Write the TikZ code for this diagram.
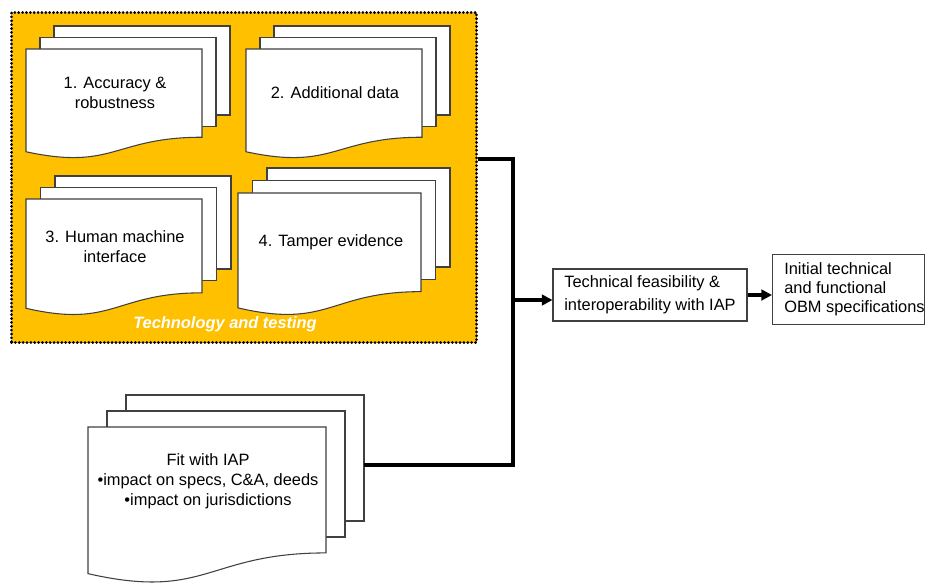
\documentclass[tikz,border=0pt]{standalone}
\usepackage{fontspec}
\setmainfont{Liberation Sans}
\usetikzlibrary{arrows.meta}
\definecolor{gold}{HTML}{FFC000}
\definecolor{pageline}{HTML}{404040}
% #1 x0, #2 y0, #3 w, #4 h (wave height), #5 dx, #6 dy, #7 back page height
\newcommand\mdoc[7]{%
  \draw[page] ({#1+2*#5},{#2-2*#6}) rectangle ++(#3,#7);
  \draw[page] ({#1+#5},{#2-#6}) rectangle ++(#3,#7);
  \draw[page] (#1,#2) -- ({#1+#3},#2) -- ({#1+#3},{#2+0.802*#4})
    .. controls ({#1+0.5*#3},{#2+0.802*#4}) and ({#1+0.5*#3},{#2+1.107*#4}) ..
    (#1,{#2+0.934*#4}) -- cycle;
}
\begin{document}
\begin{tikzpicture}[x=0.75pt,y=-0.75pt,
  page/.style={draw=pageline, fill=white, line width=0.8pt},
  lbl/.style={font=\fontsize{12.3pt}{15pt}\selectfont, align=center, inner sep=0pt},
  conn/.style={line width=2.3pt},
  arr/.style={conn, -{Triangle[length=8pt,width=8pt]}},
  box/.style={draw=pageline, line width=0.8pt, fill=white},
  group/.style={fill=gold, draw=black, line width=2.3pt, line cap=round, dash pattern=on 0pt off 2.9pt}]
\useasboundingbox (0,0) rectangle (926,583);

% group
\node[group, anchor=north west, minimum width=348.75pt, minimum height=247.5pt, inner sep=0pt] (tech) at (10,11) {};

% documents
\mdoc{26}{49}{176}{110}{14}{11.5}{89}
\node[lbl] (d1) at (115,93) {1. Accuracy \&\\robustness};

\mdoc{246}{49}{176}{110}{14}{11.5}{89}
\node[lbl] (d2) at (335,93) {2. Additional data};

\mdoc{26}{199}{176}{117}{14.5}{11.5}{93}
\node[lbl] (d3) at (115,247) {3. Human machine\\interface};

\mdoc{238}{193}{183}{123}{14.5}{12.5}{99}
\node[lbl] (d4) at (331,242) {4. Tamper evidence};

\node[font=\bfseries\itshape\fontsize{12.3pt}{15pt}\selectfont, text=white, inner sep=0pt] (tt) at (225,324) {Technology and testing};

\mdoc{88}{427}{238}{157}{19}{16}{126}
\node[lbl] (d5) at (208,481) {Fit with IAP\\\textbullet impact on specs, C\&A, deeds\\\textbullet impact on jurisdictions};
\coordinate (fitb) at (364,465);

% boxes
\node[box, lbl, align=left, minimum width=145.5pt, minimum height=39pt, font=\fontsize{12.3pt}{17pt}\selectfont] (feas) at (650,295) {Technical feasibility \&\\interoperability with IAP};
\node[box, anchor=north west, minimum width=114pt, minimum height=52.5pt, inner sep=0pt] (spec) at (772,254) {};
\node[lbl, align=left, anchor=west, font=\fontsize{12.3pt}{14.25pt}\selectfont] (spect) at (784,289) {Initial technical\\and functional\\OBM specifications};

% connectors
\coordinate (jt) at (513,159);
\coordinate (jb) at (513,465);
\coordinate (jm) at (513,300);
\draw[conn] (tech.east |- jt) -- (jt) -- (jb) -- (fitb);
\draw[arr] (jm) -- (feas.west |- jm);
\draw[arr] (feas.east) -- (spec.west |- feas.east);
\end{tikzpicture}
\end{document}
